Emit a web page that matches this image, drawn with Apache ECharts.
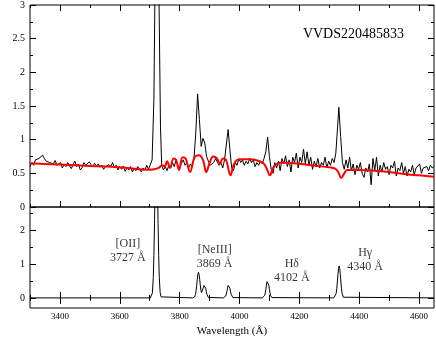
<!DOCTYPE html>
<html>
<head>
<meta charset="utf-8">
<script src="https://cdn.jsdelivr.net/npm/echarts@6/dist/echarts.min.js"></script>
<style>
  html, body { margin: 0; padding: 0; background: #fff; }
  #chart { width: 436px; height: 338px; }
</style>
</head>
<body>
<div id="chart"></div>
<script>
// observed spectrum, [wavelength (A), flux]
const spectrum = [
  [3300,0.60],[3306,0.66],[3312,0.62],[3318,0.70],[3324,0.68],[3330,0.72],[3336,0.74],[3342,0.77],
  [3348,0.72],[3354,0.68],[3360,0.70],[3366,0.66],[3372,0.68],[3378,0.64],[3384,0.69],[3390,0.62],
  [3396,0.60],[3402,0.66],[3408,0.58],[3414,0.63],[3420,0.60],[3426,0.66],[3432,0.61],[3438,0.57],
  [3444,0.63],[3450,0.68],[3456,0.60],[3462,0.64],[3468,0.55],[3474,0.58],[3480,0.66],[3486,0.62],
  [3492,0.60],[3498,0.67],[3504,0.63],[3510,0.60],[3516,0.65],[3522,0.61],[3528,0.64],[3534,0.59],
  [3540,0.62],[3546,0.56],[3552,0.60],[3558,0.58],[3564,0.63],[3570,0.60],[3576,0.66],[3582,0.58],
  [3588,0.62],[3594,0.55],[3600,0.60],[3606,0.56],[3612,0.61],[3618,0.53],[3624,0.58],[3630,0.55],
  [3636,0.60],[3642,0.52],[3648,0.57],[3654,0.54],[3660,0.60],[3666,0.56],[3672,0.52],[3678,0.58],
  [3684,0.55],[3690,0.62],[3696,0.56],[3702,0.58],[3708,0.70],[3714,1.60],[3718,3.40],[3724,4.50],
  [3730,3.50],[3736,1.20],[3740,0.62],[3746,0.55],[3752,0.60],[3758,0.54],[3764,0.62],[3770,0.58],
  [3776,0.66],[3782,0.60],[3788,0.70],[3794,0.62],[3800,0.58],[3806,0.65],[3812,0.70],[3818,0.62],
  [3824,0.66],[3830,0.58],[3836,0.64],[3842,0.60],[3848,0.72],[3854,1.10],[3860,1.68],[3866,1.30],
  [3872,0.90],[3878,1.02],[3884,0.95],[3890,0.75],[3896,0.68],[3902,0.62],[3908,0.60],[3914,0.66],
  [3920,0.72],[3926,0.70],[3932,0.62],[3938,0.66],[3944,0.58],[3950,0.70],[3956,0.72],[3962,1.15],
  [3968,0.85],[3974,0.58],[3980,0.54],[3986,0.66],[3992,0.62],[3998,0.72],[4004,0.66],[4010,0.70],
  [4016,0.62],[4022,0.68],[4028,0.64],[4034,0.72],[4040,0.66],[4046,0.70],[4052,0.60],[4058,0.66],
  [4064,0.62],[4070,0.68],[4076,0.64],[4082,0.72],[4088,0.82],[4094,1.04],[4100,0.75],[4106,0.56],
  [4112,0.50],[4118,0.66],[4124,0.58],[4130,0.68],[4136,0.54],[4142,0.72],[4148,0.64],[4154,0.76],
  [4160,0.60],[4166,0.70],[4172,0.52],[4178,0.74],[4184,0.66],[4190,0.80],[4196,0.58],[4202,0.74],
  [4208,0.66],[4214,0.86],[4220,0.64],[4226,0.82],[4232,0.62],[4238,0.74],[4244,0.56],[4250,0.68],
  [4256,0.60],[4262,0.72],[4268,0.58],[4274,0.66],[4280,0.62],[4286,0.74],[4292,0.58],[4298,0.68],
  [4304,0.62],[4310,0.72],[4316,0.66],[4322,0.80],[4328,1.20],[4332,1.48],[4338,1.05],[4344,0.66],
  [4350,0.56],[4356,0.70],[4362,0.58],[4368,0.74],[4374,0.54],[4380,0.64],[4386,0.48],[4392,0.62],
  [4398,0.56],[4404,0.66],[4410,0.50],[4416,0.44],[4422,0.58],[4428,0.52],[4434,0.64],[4440,0.33],
  [4446,0.72],[4452,0.54],[4458,0.74],[4464,0.46],[4470,0.62],[4476,0.52],[4482,0.66],[4488,0.56],
  [4494,0.60],[4500,0.48],[4506,0.62],[4512,0.58],[4518,0.68],[4524,0.46],[4530,0.58],[4536,0.54],
  [4542,0.66],[4548,0.50],[4554,0.60],[4560,0.46],[4566,0.56],[4572,0.52],[4578,0.62],[4584,0.48],
  [4590,0.58],[4596,0.56],[4602,0.64],[4608,0.50],[4614,0.58],[4620,0.56],[4626,0.60],[4632,0.54],
  [4638,0.62],[4644,0.58],[4650,0.60]
];

// stellar continuum fit (red)
const continuum = [
  [3300,0.65],[3400,0.63],[3500,0.61],[3600,0.59],[3700,0.555],[3715,0.56],[3730,0.58],[3742,0.62],
  [3750,0.60],[3758,0.68],[3768,0.58],[3780,0.72],[3788,0.70],[3798,0.55],[3810,0.74],[3820,0.72],
  [3835,0.52],[3850,0.74],[3865,0.77],[3878,0.70],[3889,0.52],[3900,0.65],[3912,0.75],[3925,0.72],
  [3934,0.64],[3945,0.72],[3955,0.70],[3970,0.47],[3980,0.62],[3992,0.70],[4010,0.71],[4035,0.71],
  [4060,0.69],[4080,0.65],[4090,0.58],[4102,0.47],[4112,0.58],[4125,0.64],[4150,0.66],[4180,0.65],
  [4220,0.63],[4260,0.61],[4300,0.59],[4320,0.57],[4330,0.52],[4340,0.43],[4350,0.50],[4360,0.55],
  [4400,0.55],[4450,0.54],[4500,0.52],[4550,0.49],[4600,0.47],[4650,0.45]
];

// emission line model (bottom panel)
const lineModel = [
  [3300,0],[3702,0],[3706,0.03],[3709,0.15],[3712,0.61],[3714,1.26],[3716,2.20],[3718,3.29],
  [3720,4.14],[3722,4.50],[3724,4.14],[3726,3.29],[3728,2.20],[3730,1.26],[3732,0.61],[3735,0.15],
  [3738,0.03],[3742,0],
  [3843,0],[3847,0.005],[3850,0.026],[3853,0.10],[3855,0.21],[3857,0.37],[3859,0.55],[3861,0.70],
  [3863,0.76],[3865,0.70],[3867,0.55],[3869,0.38],[3871,0.23],[3873,0.16],[3875,0.15],[3877,0.21],
  [3879,0.30],[3881,0.37],[3883,0.40],[3885,0.37],[3887,0.29],[3889,0.19],[3891,0.11],[3893,0.054],
  [3896,0.014],[3900,0],
  [3946,0],[3950,0.01],[3954,0.054],[3956,0.11],[3958,0.19],[3960,0.29],[3962,0.37],[3964,0.40],
  [3966,0.37],[3968,0.29],[3970,0.19],[3972,0.11],[3974,0.054],[3978,0.01],[3982,0],
  [4076,0],[4080,0.01],[4084,0.07],[4086,0.14],[4088,0.25],[4090,0.38],[4092,0.48],[4094,0.52],
  [4096,0.48],[4098,0.38],[4100,0.25],[4102,0.14],[4104,0.07],[4108,0.01],[4112,0],
  [4315,0],[4319,0.02],[4323,0.13],[4325,0.27],[4327,0.47],[4329,0.69],[4331,0.87],[4333,0.95],
  [4335,0.87],[4337,0.69],[4339,0.47],[4341,0.27],[4343,0.13],[4347,0.02],[4351,0],[4650,0]
];

const lineLabels = [
  { name: '[OII]\n3727 Å', value: [3627, 1.40] },
  { name: '[NeIII]\n3869 Å', value: [3917, 1.22] },
  { name: 'Hδ\n4102 Å', value: [4175, 0.81] },
  { name: 'Hγ\n4340 Å', value: [4420, 1.14] }
];

const xMajor = [3400, 3600, 3800, 4000, 4200, 4400, 4600];
const xMinor = [3300, 3500, 3700, 3900, 4100, 4300, 4500];
const yMajorLow = [0, 1, 2];
const yMinorLow = [0.5, 1.5, 2.5];
const objectName = 'VVDS220485833';

const FONT = 'Liberation Serif';
const INK = '#000';
const tickStyle = { color: INK, width: 1 };

function xAx(grid, pos, ticks, len, labels) {
  return {
    type: 'value', gridIndex: grid, position: pos, min: 3300, max: 4650,
    axisLine: { show: false },
    axisTick: { show: true, inside: true, length: len, customValues: ticks, lineStyle: tickStyle },
    axisLabel: labels
      ? { show: true, customValues: ticks, formatter: v => String(v), color: INK, fontFamily: FONT, fontSize: 9, margin: 4 }
      : { show: false },
    splitLine: { show: false }
  };
}

function yLowAx(pos, ticks, len, labels) {
  return {
    type: 'value', gridIndex: 1, position: pos, min: -0.3, max: 2.7,
    axisLine: { show: false },
    axisTick: { show: true, inside: true, length: len, customValues: ticks, lineStyle: tickStyle },
    axisLabel: labels
      ? { show: true, customValues: ticks, formatter: v => String(v), color: INK, fontFamily: FONT, fontSize: 10, margin: 5 }
      : { show: false },
    splitLine: { show: false }
  };
}

function yTopAx(pos, labels) {
  return {
    type: 'value', gridIndex: 0, position: pos, min: 0, max: 3, interval: 0.5,
    name: labels ? 'Flux' : '', nameLocation: 'middle', nameGap: 24, nameRotate: 90,
    nameTextStyle: { color: INK, fontFamily: FONT, fontSize: 11 },
    axisLine: { show: false },
    axisTick: { show: true, inside: true, length: 6, lineStyle: tickStyle },
    minorTick: { show: true, splitNumber: 2, length: 3, lineStyle: tickStyle },
    axisLabel: labels
      ? { show: true, formatter: v => String(v), color: INK, fontFamily: FONT, fontSize: 10, margin: 5 }
      : { show: false },
    splitLine: { show: false }
  };
}

const bottomX = xAx(1, 'bottom', xMajor, 6, true);
bottomX.name = 'Wavelength (Å)';
bottomX.nameLocation = 'middle';
bottomX.nameGap = 18;
bottomX.nameTextStyle = { color: INK, fontFamily: FONT, fontSize: 11 };

const chart = echarts.init(document.getElementById('chart'), null, { renderer: 'canvas' });
chart.setOption({
  animation: false,
  backgroundColor: '#fff',
  title: {
    text: objectName, right: 27, top: 22,
    textStyle: { color: INK, fontFamily: FONT, fontSize: 14, fontWeight: 'normal' }
  },
  grid: [
    { left: 30, top: 5, width: 404, height: 202, show: true, borderColor: INK, borderWidth: 1,
      backgroundColor: 'transparent', containLabel: false, outerBoundsMode: 'none' },
    { left: 30, top: 207, width: 404, height: 101, show: true, borderColor: INK, borderWidth: 1,
      backgroundColor: 'transparent', containLabel: false, outerBoundsMode: 'none' }
  ],
  xAxis: [
    xAx(0, 'bottom', xMajor, 6, false),
    xAx(0, 'bottom', xMinor, 3, false),
    xAx(0, 'top', xMajor, 6, false),
    xAx(0, 'top', xMinor, 3, false),
    bottomX,
    xAx(1, 'bottom', xMinor, 3, false),
    xAx(1, 'top', xMajor, 6, false),
    xAx(1, 'top', xMinor, 3, false)
  ],
  yAxis: [
    yTopAx('left', true),
    yTopAx('right', false),
    yLowAx('left', yMajorLow, 6, true),
    yLowAx('left', yMinorLow, 3, false),
    yLowAx('right', yMajorLow, 6, false),
    yLowAx('right', yMinorLow, 3, false)
  ],
  series: [
    {
      type: 'line', xAxisIndex: 0, yAxisIndex: 0, data: spectrum,
      showSymbol: false, symbol: 'none', clip: true,
      lineStyle: { color: INK, width: 1 }
    },
    {
      type: 'line', xAxisIndex: 0, yAxisIndex: 0, data: continuum,
      showSymbol: false, symbol: 'none', smooth: 0.4, clip: true,
      lineStyle: { color: '#ff0000', width: 2 }
    },
    {
      type: 'line', xAxisIndex: 4, yAxisIndex: 2, data: lineModel,
      showSymbol: false, symbol: 'none', clip: true,
      lineStyle: { color: INK, width: 1 }
    },
    {
      type: 'scatter', xAxisIndex: 4, yAxisIndex: 2, data: lineLabels,
      symbolSize: 0, silent: true,
      label: {
        show: true, position: 'inside', formatter: p => p.name,
        color: INK, fontFamily: FONT, fontSize: 12, lineHeight: 14, align: 'center'
      }
    }
  ]
});
</script>
</body>
</html>
